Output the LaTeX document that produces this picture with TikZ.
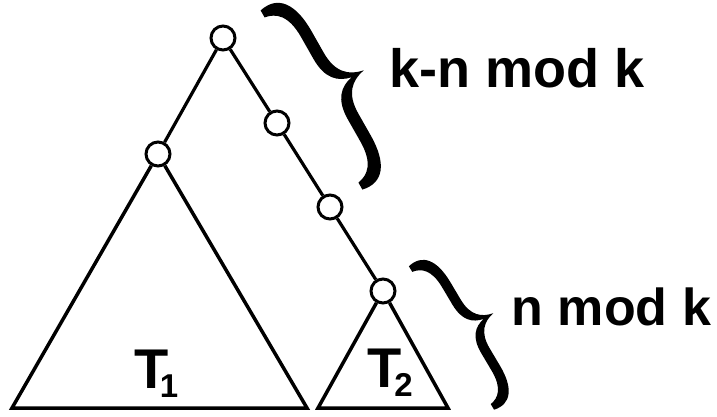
\documentclass[tikz,border=0pt]{standalone}
\usepackage{fontspec}
\setmainfont{Liberation Sans}
\begin{document}
\begin{tikzpicture}[x=1pt,y=1pt,
  vert/.style={circle,draw,fill=white,line width=3pt,minimum size=24pt,inner sep=0pt},
  edge/.style={line width=3.2pt},
  tri/.style={line width=3.5pt,line join=miter},
  lbl/.style={anchor=base west,inner sep=0pt},
  bracepic/.pic={
    \fill (0,1.03) .. controls (0.22,1.08) and (0.34,0.92) .. (0.34,0.6)
      -- (0.34,0.35)
      .. controls (0.34,0.12) and (0.45,0.03) .. (0.6,0)
      .. controls (0.45,-0.03) and (0.34,-0.12) .. (0.34,-0.35)
      -- (0.34,-0.6)
      .. controls (0.34,-0.92) and (0.22,-1.08) .. (0,-1.03)
      -- (0,-0.95)
      .. controls (0.12,-0.93) and (0.22,-0.85) .. (0.22,-0.6)
      -- (0.22,-0.35)
      .. controls (0.22,-0.12) and (0.32,-0.03) .. (0.46,0)
      .. controls (0.32,0.03) and (0.22,0.12) .. (0.22,0.35)
      -- (0.22,0.6)
      .. controls (0.22,0.85) and (0.12,0.93) .. (0,0.95)
      -- cycle;
  }]
\useasboundingbox (0,0) rectangle (717,416);

% tree nodes
\node[vert] (r)  at (223,378) {};
\node[vert] (a)  at (158,262) {};
\node[vert] (c1) at (277,293) {};
\node[vert] (c2) at (330,209) {};
\node[vert] (c3) at (383,125) {};

% triangle corners
\coordinate (b1l) at (12,8);
\coordinate (b1r) at (307,8);
\coordinate (b2l) at (318,8);
\coordinate (b2r) at (448,8);

% connectors
\draw[edge] (r) -- (a);
\draw[edge] (r) -- (c1);
\draw[edge] (c1) -- (c2);
\draw[edge] (c2) -- (c3);

% subtrees
\draw[tri] (a) -- (b1l) -- (b1r) -- (a);
\draw[tri] (c3) -- (b2l) -- (b2r) -- (c3);

% subtree labels
\node[lbl,font=\bfseries\fontsize{56}{56}\selectfont] (t1) at (134,28)
  {T\kern-8.5pt\raisebox{-9pt}{\fontsize{33}{33}\selectfont 1}};
\node[lbl,font=\bfseries\fontsize{56}{56}\selectfont] (t2) at (367,29)
  {T\kern-7pt\raisebox{-9pt}{\fontsize{33}{33}\selectfont 2}};

% braces
\pic (br1) [rotate=29.6,scale=100] at (311.5,316) {bracepic};
\pic (br2) [rotate=30.7,scale=81] at (451.5,78) {bracepic};

% brace labels
\node[lbl,font=\bfseries\fontsize{54}{54}\selectfont] (l1) at (389.5,328) {k-n mod k};
\node[lbl,font=\bfseries\fontsize{52}{52}\selectfont] (l2) at (511.5,91) {n mod k};
\end{tikzpicture}
\end{document}
